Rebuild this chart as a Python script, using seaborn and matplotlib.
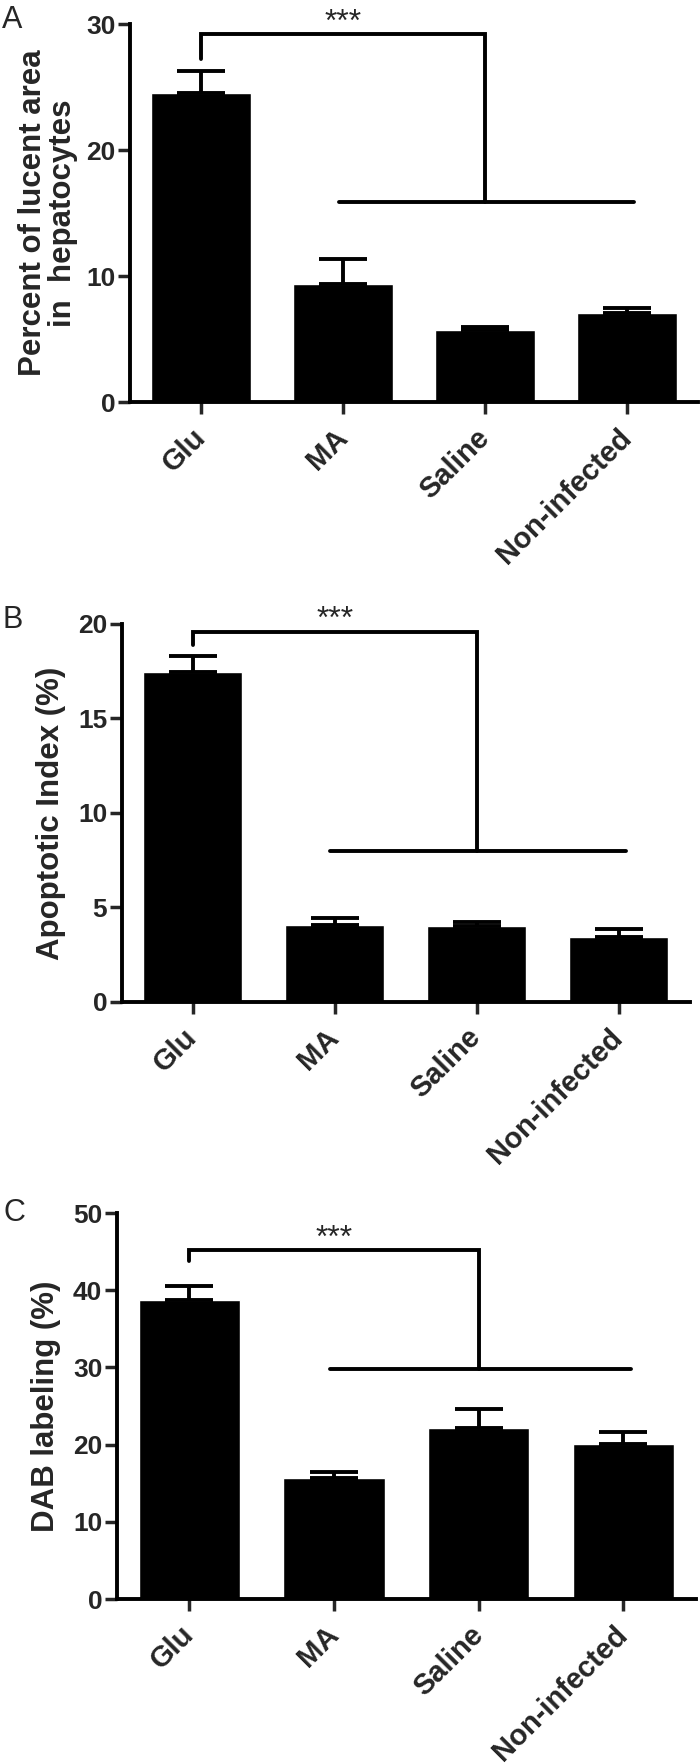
import numpy as np
import pandas as pd
import matplotlib
matplotlib.use("Agg")
import matplotlib.pyplot as plt
import seaborn as sns

# =====================================================
# DATA
# =====================================================

groups = ["Glu", "MA", "Saline", "Non-infected"]

lucent_mean = [24.5, 9.4, 5.7, 7.1]
lucent_err = [1.8, 2.0, 0.3, 0.35]

apoptotic_mean = [17.45, 4.05, 4.0, 3.45]
apoptotic_err = [0.85, 0.4, 0.25, 0.43]

dab_mean = [38.8, 15.7, 22.1, 20.1]
dab_err = [1.75, 0.8, 2.5, 1.55]

panel_letters = ["A", "B", "C"]
ylabels = [
    "Percent of lucent area\nin  hepatocytes",
    "Apoptotic Index (%)",
    "DAB labeling (%)",
]
ylims = [30, 20, 50]
ytick_steps = [10, 5, 10]

# significance brackets
bracket_leg = [27.2, 18.9, 43.75]
bracket_top = [29.2, 19.55, 45.2]
bracket_low = [15.9, 8.0, 29.85]
star_y = [29.45, 19.8, 45.6]

# =====================================================
# STYLE
# =====================================================

sns.set_style("ticks")
plt.rcParams["font.family"] = ["Liberation Sans", "DejaVu Sans"]

LW = 2.8

fig = plt.figure(figsize=(7, 17.64), dpi=100)

# axes rectangles [left, bottom, width, height]
rects = [
    [0.186, 0.772, 0.811, 0.2143],
    [0.174, 0.432, 0.811, 0.2143],
    [0.167, 0.0935, 0.827, 0.2188],
]

letter_pos = [(0.003, 0.997), (0.003, 0.657), (0.005, 0.321)]
ylabel_x = [-0.092, -0.098, -0.096]

panels = [
    (lucent_mean, lucent_err),
    (apoptotic_mean, apoptotic_err),
    (dab_mean, dab_err),
]

for i, (means, errs) in enumerate(panels):

    ax = fig.add_axes(rects[i])

    df = pd.DataFrame({"Group": groups, "Value": means})

    sns.barplot(
        data=df,
        x="Group",
        y="Value",
        color="black",
        width=0.7,
        errorbar=None,
        ax=ax
    )

    x = np.arange(len(groups))

    ax.errorbar(
        x,
        means,
        yerr=[np.zeros(len(errs)), errs],
        fmt="none",
        ecolor="black",
        elinewidth=LW,
        capsize=17.5,
        capthick=LW,
        zorder=1
    )

    ax.set_xlim(-0.5, 3.5)
    ax.set_ylim(0, ylims[i])
    ax.set_yticks(np.arange(0, ylims[i] + 0.1, ytick_steps[i]))

    sns.despine(ax=ax)
    for side in ["left", "bottom"]:
        ax.spines[side].set_linewidth(LW)
        ax.spines[side].set_color("black")
        ax.spines[side].set_capstyle("projecting")

    ax.tick_params(axis="y", length=8.5, width=2.5, pad=2, labelsize=19)
    ax.tick_params(axis="x", length=8.5, width=2.5, pad=14, labelsize=21)

    for lab in ax.get_yticklabels():
        lab.set_fontweight("bold")

    ax.set_xticks(x)
    ax.set_xticklabels(
        groups,
        rotation=45,
        ha="right",
        va="center",
        rotation_mode="anchor",
        fontweight="bold",
        fontsize=21
    )

    ax.set_xlabel("")
    ax.set_ylabel(
        ylabels[i],
        fontsize=22.5,
        fontweight="bold",
        linespacing=1.0
    )
    ax.yaxis.set_label_coords(ylabel_x[i], 0.5)

    # significance bracket
    ax.plot(
        [0, 0, 2, 2],
        [bracket_leg[i], bracket_top[i], bracket_top[i], bracket_low[i]],
        color="black",
        lw=LW,
        solid_capstyle="round",
        solid_joinstyle="miter",
        clip_on=False
    )
    ax.plot(
        [0.97, 3.05],
        [bracket_low[i], bracket_low[i]],
        color="black",
        lw=LW,
        solid_capstyle="round",
        clip_on=False
    )
    ax.text(
        1.0,
        star_y[i],
        "***",
        ha="center",
        va="baseline",
        fontsize=23
    )

    fig.text(
        letter_pos[i][0],
        letter_pos[i][1],
        panel_letters[i],
        ha="left",
        va="top",
        fontsize=22
    )

fig.savefig("out.png", dpi=100)
